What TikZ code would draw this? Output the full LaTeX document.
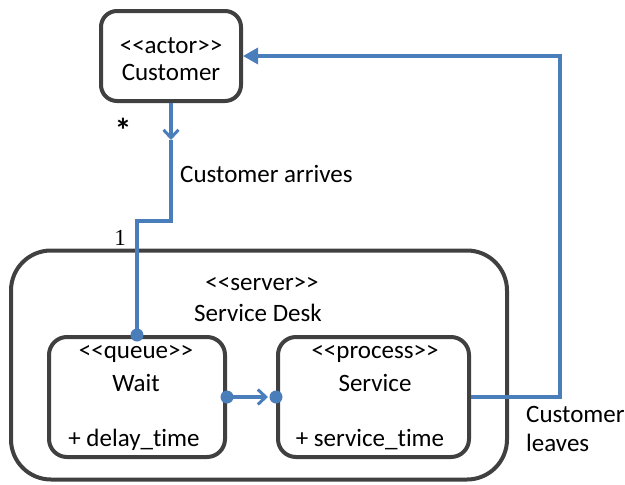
\documentclass[tikz,border=0pt]{standalone}
\usepackage{fontspec}
\setmainfont{Carlito}[Ligatures=NoCommon]
\newfontfamily\serifsym{Liberation Serif}
\usetikzlibrary{arrows.meta,calc}
\definecolor{boxgray}{HTML}{404040}
\definecolor{lineblue}{HTML}{4A7EBB}
\begin{document}
\begin{tikzpicture}[x=1pt,y=-1pt,
  box/.style={draw=boxgray,line width=4pt,fill=white,rectangle,rounded corners=#1,inner sep=0pt},
  conn/.style={draw=lineblue,line width=3.3pt},
  txt/.style={font=\fontsize{25}{29}\selectfont,text=black,inner sep=0pt},
  dotmark/.style={circle,fill=lineblue,inner sep=0pt,minimum size=13pt}]
\useasboundingbox (0,0) rectangle (625,485);
% boxes
\node[box=16pt,minimum width=140pt,minimum height=90pt] (cust) at (171,56) {};
\node[box=40pt,minimum width=496pt,minimum height=229pt] (desk) at (259,365) {};
\node[box=18pt,minimum width=176pt,minimum height=120pt] (wait) at (137,397) {};
\node[box=18pt,minimum width=191pt,minimum height=120pt] (serv) at (373.5,397) {};
% texts
\node[txt] (custA) at (171,46) {{<}{<}actor{>}{>}};
\node[txt] (custB) at (171,72) {Customer};
\node[txt] (deskA) at (262,284) {{<}{<}server{>}{>}};
\node[txt] (deskB) at (258,313) {Service Desk};
\node[txt] (waitA) at (136,354) {{<}{<}queue{>}{>}};
\node[txt] (waitB) at (136,383) {Wait};
\node[txt] (waitC) at (134,440) {+ delay\_time};
\node[txt] (servA) at (375,354) {{<}{<}process{>}{>}};
\node[txt] (servB) at (375,383) {Service};
\node[txt] (servC) at (370,440) {+ service\_time};
\node[txt,anchor=west] (arr) at (180,174) {Customer arrives};
\node[txt,anchor=west,align=left] (lv) at (526,429) {Customer\\leaves};
\node[font=\fontsize{34}{36}\selectfont\bfseries,inner sep=0pt] (star) at (123,130) {*};
\node[font=\serifsym\fontsize{23}{26}\selectfont,inner sep=0pt] (one) at (120,238) {1};
% connectors
\coordinate (mid1) at (171,140);
\coordinate (b1) at (171,221);
\coordinate (b2) at (560,397);
\draw[conn,-{Straight Barb[length=8pt,width=15pt,line width=3pt]}] (cust.south) -- (mid1);
\draw[conn] (mid1) -- (b1) -| (wait.north);
\node[dotmark] (d1) at (wait.north) {};
\draw[conn,-{Straight Barb[length=8pt,width=15pt,line width=3pt]},shorten >=8pt] (wait.east) -- (serv.west);
\node[dotmark] (d2) at (wait.east) {};
\node[dotmark] (d3) at (serv.west) {};
\draw[conn,-{Triangle[length=15pt,width=16pt]}] (serv.east) -- (b2) |- (cust.east);
\end{tikzpicture}
\end{document}
